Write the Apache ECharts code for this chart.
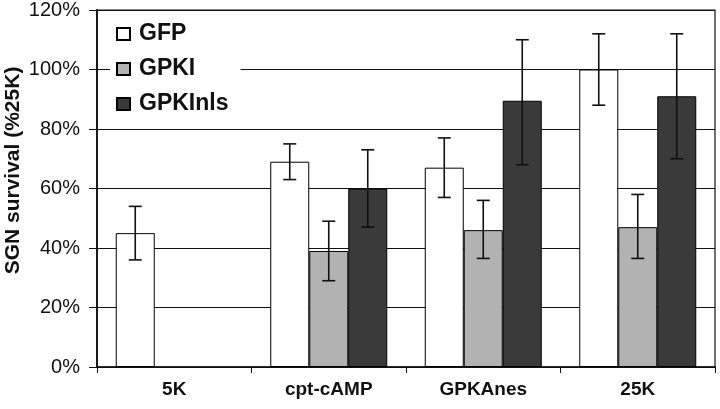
<!DOCTYPE html>
<html>
<head>
<meta charset="utf-8">
<script src="https://cdn.jsdelivr.net/npm/echarts@6/dist/echarts.min.js"></script>
<style>html,body{margin:0;padding:0;background:#fff}#c{width:720px;height:409px}</style>
</head>
<body>
<div id="c"></div>
<script>
const categories = ['5K', 'cpt-cAMP', 'GPKAnes', '25K'];
const seriesNames = ['GFP', 'GPKI', 'GPKInls'];
const gfp = [45, 69, 67, 100];
const gfpLow = [36, 63, 57, 88];
const gfpHigh = [54, 75, 77, 112];
const gpki = [null, 39, 46, 47];
const gpkiLow = [null, 29, 36.5, 36.5];
const gpkiHigh = [null, 49, 56, 58];
const gpkinls = [null, 60, 89.5, 91];
const gpkinlsLow = [null, 47, 68, 70];
const gpkinlsHigh = [null, 73, 110, 112];
const yTicks = [0, 20, 40, 60, 80, 100, 120];

const colors = ['#ffffff', '#b2b2b2', '#3a3a3a'];
const BAR_W = 39;
const values = [gfp, gpki, gpkinls];
const lows = [gfpLow, gpkiLow, gpkinlsLow];
const highs = [gfpHigh, gpkiHigh, gpkinlsHigh];

const barSeries = seriesNames.map((name, k) => ({
  name: name,
  type: 'bar',
  data: values[k],
  barWidth: BAR_W,
  barGap: '0%',
  itemStyle: { color: colors[k], borderColor: '#000', borderWidth: 1 },
  z: 2
}));

const errSeries = seriesNames.map((name, k) => ({
  name: name + ' err',
  type: 'custom',
  z: 5,
  data: categories.map((c, i) => lows[k][i] == null ? null : [i, lows[k][i], highs[k][i]]).filter(d => d),
  encode: { x: 0, y: [1, 2] },
  renderItem: function (params, api) {
    const i = api.value(0);
    const lo = api.coord([i, api.value(1)]);
    const hi = api.coord([i, api.value(2)]);
    const x = lo[0] + (k - 1) * BAR_W;
    const cap = 6.5;
    const st = { stroke: '#111', lineWidth: 1.6 };
    return {
      type: 'group',
      children: [
        { type: 'line', shape: { x1: x, y1: lo[1], x2: x, y2: hi[1] }, style: st },
        { type: 'line', shape: { x1: x - cap, y1: lo[1], x2: x + cap, y2: lo[1] }, style: st },
        { type: 'line', shape: { x1: x - cap, y1: hi[1], x2: x + cap, y2: hi[1] }, style: st }
      ]
    };
  }
}));

const chart = echarts.init(document.getElementById('c'), null, { renderer: 'canvas' });
chart.setOption({
  backgroundColor: '#fff',
  animation: false,
  grid: { left: 97, right: 5, top: 10, bottom: 42, show: true, borderColor: '#111', borderWidth: 1.2, backgroundColor: 'transparent', outerBoundsMode: 'none', containLabel: false },
  legend: {
    data: seriesNames,
    orient: 'vertical',
    left: 110,
    top: 16,
    padding: [6, 12, 6, 6],
    itemGap: 11,
    itemWidth: 13,
    itemHeight: 12,
    backgroundColor: '#fff',
    icon: 'rect',
    textStyle: { fontFamily: 'Liberation Sans, Arial, sans-serif', fontWeight: 'bold', fontSize: 23, color: '#111', lineHeight: 24, padding: [0, 0, 0, 4] }
  },
  xAxis: {
    type: 'category',
    data: categories,
    boundaryGap: true,
    axisLine: { lineStyle: { color: '#111', width: 1.5 } },
    axisTick: { show: true, length: 6, lineStyle: { color: '#111', width: 1 } },
    axisLabel: { fontFamily: 'Liberation Sans, Arial, sans-serif', fontWeight: 'bold', fontSize: 19, color: '#111', margin: 13 }
  },
  yAxis: {
    type: 'value',
    min: yTicks[0],
    max: yTicks[yTicks.length - 1],
    interval: 20,
    name: 'SGN survival (%25K)',
    nameLocation: 'middle',
    nameGap: 73,
    nameMoveOverlap: false,
    nameTextStyle: { fontFamily: 'Liberation Sans, Arial, sans-serif', fontWeight: 'bold', fontSize: 21, color: '#111', padding: [0, 0, 0, 36] },
    axisLine: { show: true, lineStyle: { color: '#111', width: 1.8 } },
    axisTick: { show: true, length: 8, lineStyle: { color: '#111', width: 1 } },
    axisLabel: { formatter: '{value}%', fontFamily: 'Liberation Sans, Arial, sans-serif', fontSize: 20, color: '#111', margin: 17 },
    splitLine: { show: true, lineStyle: { color: '#111', width: 1 } }
  },
  series: barSeries.concat(errSeries)
});
</script>
</body>
</html>
